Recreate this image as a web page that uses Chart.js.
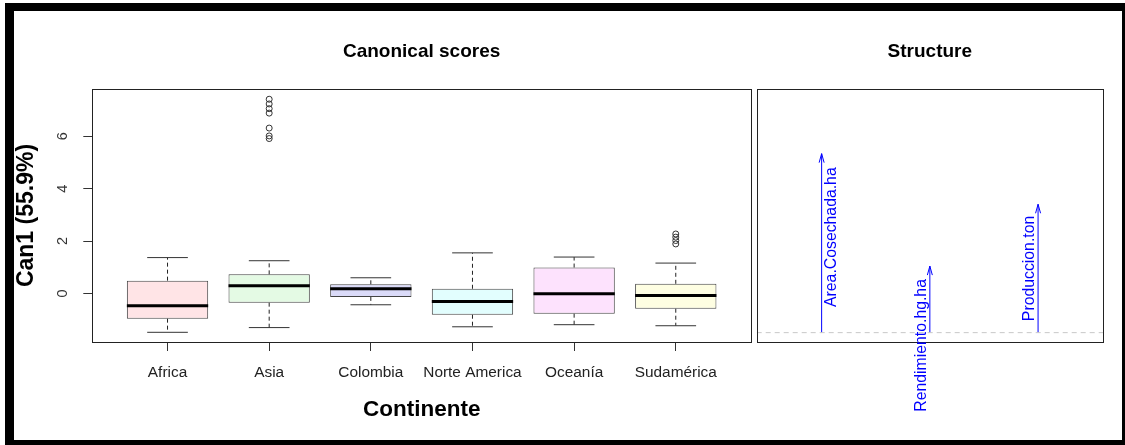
<!DOCTYPE html>
<html>
<head>
<meta charset="utf-8">
<script src="https://cdn.jsdelivr.net/npm/chart.js@4.4.1/dist/chart.umd.min.js"></script>
<style>
    html, body { margin: 0; padding: 0; background: #fff; }
    body { width: 1125px; height: 445px; position: relative; overflow: hidden; }
    #frame {
        position: absolute; left: 5px; top: 3px; right: 0; bottom: 0;
        border-style: solid; border-color: #000;
        border-width: 8px 3px 5px 9px; box-sizing: border-box;
    }
    #scoresBox { position: absolute; left: 0; top: 0; width: 756px; height: 445px; }
    #structBox { position: absolute; left: 745px; top: 0; width: 380px; height: 445px; }
</style>
</head>
<body>
<div id="frame"></div>
<div id="scoresBox"><canvas id="scores"></canvas></div>
<div id="structBox"><canvas id="structure"></canvas></div>
<script>
// Canonical scores per continent (box plot summary)
const continents = ['Africa', 'Asia', 'Colombia', 'Norte America', 'Oceanía', 'Sudamérica'];
const whiskerLow = [-1.48, -1.30, -0.43, -1.27, -1.19, -1.23];
const lowerQuartile = [-0.96, -0.35, -0.13, -0.81, -0.77, -0.58];
const medians = [-0.47, 0.30, 0.18, -0.31, -0.01, -0.08];
const upperQuartile = [0.49, 0.73, 0.35, 0.18, 0.99, 0.37];
const whiskerHigh = [1.37, 1.25, 0.60, 1.55, 1.39, 1.16];
const asiaOutliers = [7.41, 7.23, 7.05, 6.88, 6.31, 6.01, 5.91];
const sudamericaOutliers = [2.27, 2.15, 2.02, 1.89];
const yTicks = [0, 2, 4, 6];

// Structure coefficients
const variables = ['Area.Cosechada.ha', 'Rendimiento.hg.ha', 'Produccion.ton'];
const structure = [0.764, 0.284, 0.548];

const fontFamily = "'Liberation Sans', Arial, sans-serif";
Chart.defaults.font.family = fontFamily;
Chart.defaults.color = '#000';

const boxFills = ['#ffe4e6', '#e4fae4', '#dadaf8', '#e2fefe', '#fde2fd', '#fefee2'];
const BOX_HALF = 0.4;
const STAPLE_HALF = 0.2;

// Segments separated by null points so one line dataset draws many pieces
function segments(pairs) {
    const pts = [];
    pairs.forEach(([a, b]) => {
        pts.push(a, b, { x: b.x, y: null });
    });
    return pts;
}

const whiskerData = segments(continents.flatMap((c, i) => [
    [{ x: i + 1, y: upperQuartile[i] }, { x: i + 1, y: whiskerHigh[i] }],
    [{ x: i + 1, y: lowerQuartile[i] }, { x: i + 1, y: whiskerLow[i] }]
]));
const stapleData = segments(continents.flatMap((c, i) => [
    [{ x: i + 1 - STAPLE_HALF, y: whiskerHigh[i] }, { x: i + 1 + STAPLE_HALF, y: whiskerHigh[i] }],
    [{ x: i + 1 - STAPLE_HALF, y: whiskerLow[i] }, { x: i + 1 + STAPLE_HALF, y: whiskerLow[i] }]
]));
const medianData = segments(continents.map((c, i) =>
    [{ x: i + 1 - BOX_HALF, y: medians[i] }, { x: i + 1 + BOX_HALF, y: medians[i] }]
));
const outlierData = [
    ...asiaOutliers.map(v => ({ x: 2, y: v })),
    ...sudamericaOutliers.map(v => ({ x: 6, y: v }))
];

// Box round the plotting region
const framePlugin = {
    id: 'frame',
    afterDatasetsDraw(chart) {
        const { ctx, chartArea: a } = chart;
        ctx.save();
        ctx.strokeStyle = '#222';
        ctx.lineWidth = 1;
        ctx.strokeRect(Math.round(a.left) + 0.5, Math.round(a.top) + 0.5,
            Math.round(a.right - a.left), Math.round(a.bottom - a.top));
        ctx.restore();
    }
};

const segmentLine = {
    type: 'line',
    pointRadius: 0,
    spanGaps: false,
    fill: false
};

new Chart(document.getElementById('scores'), {
    type: 'bar',
    data: {
        datasets: [
            {
                data: continents.map((c, i) => ({ x: i + 1, y: [lowerQuartile[i], upperQuartile[i]] })),
                backgroundColor: boxFills,
                borderColor: '#444',
                borderWidth: 1,
                borderSkipped: false,
                barPercentage: 0.8,
                categoryPercentage: 1,
                order: 3
            },
            { ...segmentLine, data: whiskerData, borderColor: '#222', borderWidth: 1, borderDash: [4, 3], order: 4 },
            { ...segmentLine, data: stapleData, borderColor: '#333', borderWidth: 1, order: 2 },
            { ...segmentLine, data: medianData, borderColor: '#000', borderWidth: 3, order: 1 },
            {
                type: 'scatter',
                data: outlierData,
                pointStyle: 'circle',
                pointRadius: 3,
                borderColor: '#333',
                backgroundColor: 'rgba(0,0,0,0)',
                borderWidth: 1,
                order: 0
            }
        ]
    },
    options: {
        responsive: true,
        maintainAspectRatio: false,
        animation: false,
        layout: { padding: { left: 8, right: 1, top: 40.6, bottom: 17.8 } },
        plugins: {
            legend: { display: false },
            tooltip: { enabled: false },
            title: {
                display: true,
                text: 'Canonical scores',
                fullSize: false,
                color: '#000',
                font: { size: 19, weight: 'bold' },
                padding: { top: 0, bottom: 25.6 }
            }
        },
        scales: {
            x: {
                type: 'linear',
                min: 0.26,
                max: 6.74,
                bounds: 'data',
                offset: false,
                afterBuildTicks: (scale) => { scale.ticks = continents.map((c, i) => ({ value: i + 1 })); },
                afterFit: (scale) => {
                    scale.height = 85.2;
                    scale.paddingLeft = 0;
                    scale.paddingRight = 0;
                },
                ticks: {
                    autoSkip: false,
                    maxRotation: 0,
                    padding: 13,
                    color: '#222',
                    font: { size: 15.4 },
                    callback: (value) => continents[value - 1]
                },
                grid: { offset: false, drawOnChartArea: false, tickLength: 9, color: '#333' },
                border: { display: false },
                title: {
                    display: true,
                    text: 'Continente',
                    color: '#000',
                    font: { size: 22.5, weight: 'bold' },
                    padding: { top: 4, bottom: 4 }
                }
            },
            y: {
                min: -1.85,
                max: 7.8,
                bounds: 'data',
                afterBuildTicks: (scale) => { scale.ticks = yTicks.map(v => ({ value: v })); },
                afterFit: (scale) => { scale.width = 84.3; },
                ticks: {
                    minRotation: 90,
                    maxRotation: 90,
                    crossAlign: 'center',
                    padding: 16,
                    color: '#333',
                    font: { size: 14.5 }
                },
                grid: { drawOnChartArea: false, tickLength: 9, color: '#333' },
                border: { display: false },
                title: {
                    display: true,
                    text: 'Can1 (55.9%)',
                    color: '#000',
                    font: { size: 23, weight: 'bold' },
                    padding: { top: 5, bottom: 4 }
                }
            }
        }
    },
    plugins: [framePlugin]
});

// Arrow heads and rotated variable names on the structure panel
const labelShift = [
    { dx: 10, dy: -6 },
    { dx: -8, dy: 46 },
    { dx: -8, dy: 0 }
];
const arrowPlugin = {
    id: 'arrows',
    afterDatasetsDraw(chart) {
        const { ctx, scales: { x, y } } = chart;
        ctx.save();
        ctx.strokeStyle = '#0000ff';
        ctx.fillStyle = '#0000ff';
        ctx.lineWidth = 1;
        structure.forEach((v, i) => {
            const px = x.getPixelForValue(i + 1);
            const tip = y.getPixelForValue(v);
            ctx.beginPath();
            ctx.moveTo(px - 2.5, tip + 9);
            ctx.lineTo(px, tip);
            ctx.lineTo(px + 2.5, tip + 9);
            ctx.stroke();

            const lx = px + labelShift[i].dx;
            const ly = y.getPixelForValue(v / 2) + labelShift[i].dy;
            ctx.save();
            ctx.translate(lx, ly);
            ctx.rotate(-Math.PI / 2);
            ctx.font = '15.8px ' + fontFamily;
            ctx.textAlign = 'center';
            ctx.textBaseline = 'middle';
            ctx.fillText(variables[i], 0, 0);
            ctx.restore();
        });
        ctx.restore();
    }
};

new Chart(document.getElementById('structure'), {
    type: 'line',
    data: {
        datasets: [
            {
                ...segmentLine,
                data: [{ x: 0.4, y: 0 }, { x: 3.6, y: 0 }],
                borderColor: '#c8c8c8',
                borderWidth: 1,
                borderDash: [5, 4]
            },
            {
                ...segmentLine,
                data: segments(structure.map((v, i) => [{ x: i + 1, y: 0 }, { x: i + 1, y: v }])),
                borderColor: '#0000ff',
                borderWidth: 1
            }
        ]
    },
    options: {
        responsive: true,
        maintainAspectRatio: false,
        animation: false,
        layout: { padding: { left: 11.7, right: 22, top: 40.6, bottom: 103 } },
        plugins: {
            legend: { display: false },
            tooltip: { enabled: false },
            title: {
                display: true,
                text: 'Structure',
                fullSize: false,
                color: '#000',
                font: { size: 19, weight: 'bold' },
                padding: { top: 0, bottom: 25.6 }
            }
        },
        scales: {
            x: { type: 'linear', min: 0.4, max: 3.6, display: false },
            y: { type: 'linear', min: -0.04, max: 1.04, display: false }
        }
    },
    plugins: [framePlugin, arrowPlugin]
});
</script>
</body>
</html>
